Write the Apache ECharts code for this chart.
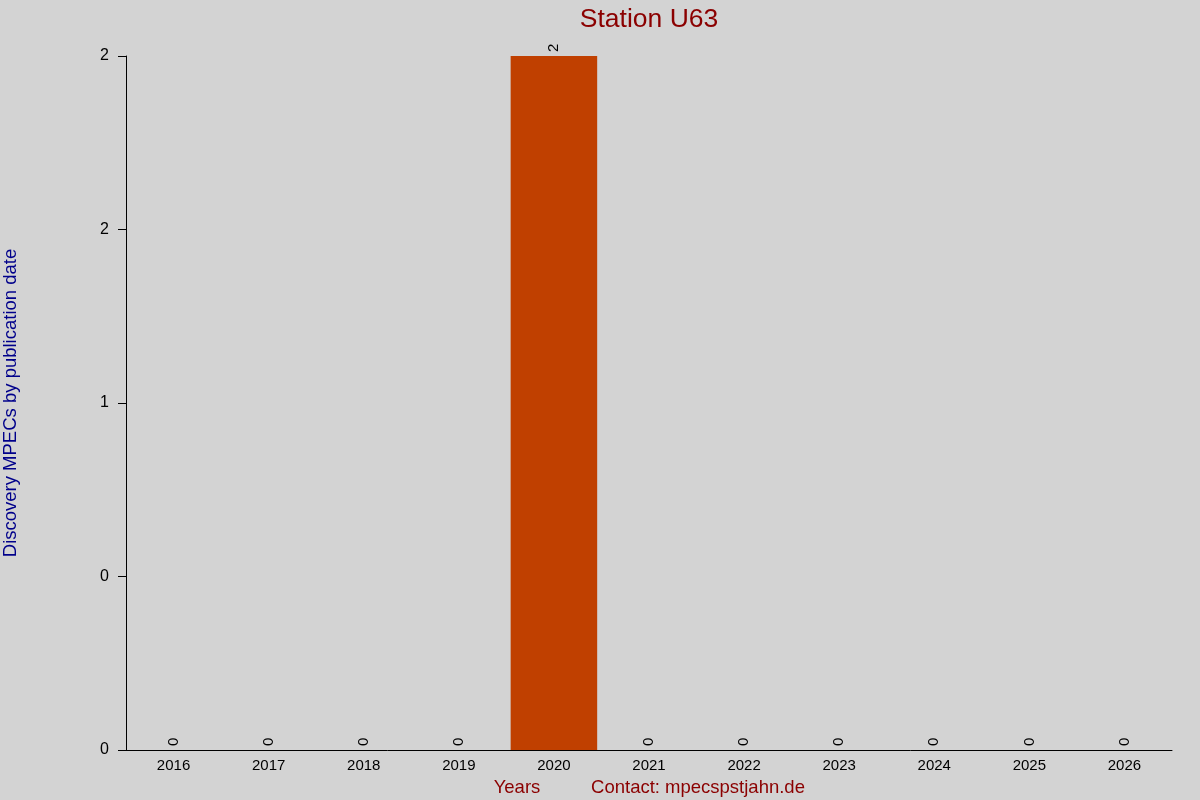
<!DOCTYPE html>
<html><head><meta charset="utf-8">
<script src="https://cdn.jsdelivr.net/npm/echarts@6/dist/echarts.min.js"></script>
<style>html,body{margin:0;padding:0;background:#d3d3d3}#c{width:1200px;height:800px}</style>
</head><body><div id="c"></div>
<script>
const years = ['2016','2017','2018','2019','2020','2021','2022','2023','2024','2025','2026'];
const counts = [0,0,0,0,2,0,0,0,0,0,0];
const yTickLabels = ['0','0','1','2','2'];
const yTickStep = 0.5;

const chart = echarts.init(document.getElementById('c'));
chart.setOption({
  backgroundColor: '#d3d3d3',
  animation: false,
  title: [
    {text: 'Station U63', left: 644, top: 1, textAlign: 'center',
     textStyle: {color: '#8b0000', fontSize: 26.5, fontWeight: 'normal', fontFamily: 'Liberation Sans'}},
    {text: 'Years', left: 512, top: 773, textAlign: 'center',
     textStyle: {color: '#8b0000', fontSize: 18.5, fontWeight: 'normal', fontFamily: 'Liberation Sans'}},
    {text: 'Contact: mpecspstjahn.de', left: 693, top: 773, textAlign: 'center',
     textStyle: {color: '#8b0000', fontSize: 18.5, fontWeight: 'normal', fontFamily: 'Liberation Sans'}}
  ],
  grid: {left: 126, right: 28, top: 56, bottom: 50, containLabel: false, outerBoundsMode: 'none'},
  xAxis: {
    type: 'category', data: years,
    axisLine: {show: true, lineStyle: {color: '#000', width: 1}},
    axisTick: {show: false},
    axisLabel: {color: '#000', fontSize: 15, margin: 8, fontFamily: 'Liberation Sans'},
    splitLine: {show: false}
  },
  yAxis: {
    type: 'value', min: 0, max: 2, interval: yTickStep,
    name: 'Discovery MPECs by publication date', nameLocation: 'middle', nameGap: 106,
    nameTextStyle: {color: '#00008b', fontSize: 18.5, fontFamily: 'Liberation Sans'},
    axisLine: {show: true, lineStyle: {color: '#000', width: 1}},
    axisTick: {show: true, length: 8, lineStyle: {color: '#000'}},
    axisLabel: {color: '#000', fontSize: 16, margin: 17, fontFamily: 'Liberation Sans',
      formatter: v => yTickLabels[Math.round(v / yTickStep)]},
    splitLine: {show: false}
  },
  series: [{
    type: 'bar', data: counts, barCategoryGap: '9%',
    itemStyle: {color: '#c04000'},
    label: {show: true, position: 'top', rotate: 90, align: 'left', verticalAlign: 'middle',
      distance: 4, color: '#000', fontSize: 15, fontFamily: 'Liberation Sans'}
  }]
});
</script></body></html>
